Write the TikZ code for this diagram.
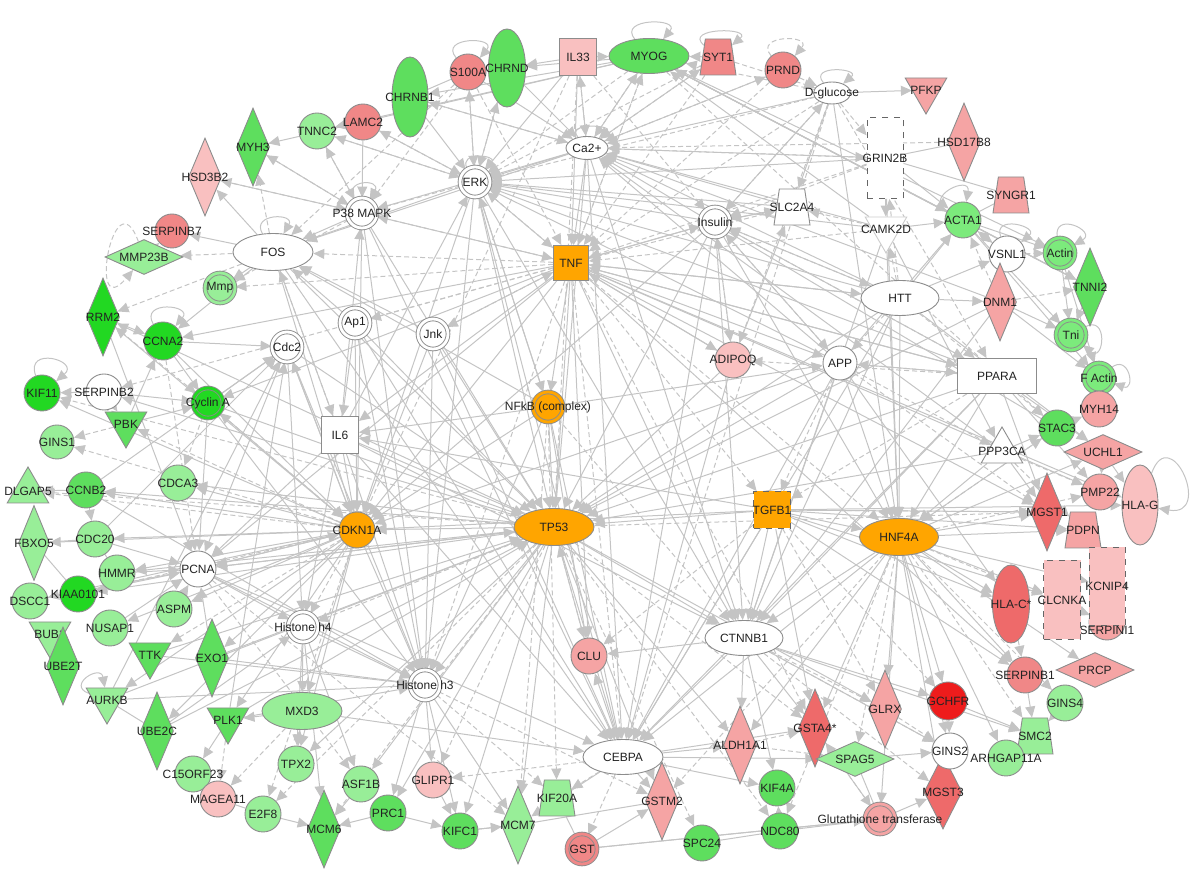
\documentclass[tikz,border=0pt]{standalone}
\usepackage{fontspec}
\setmainfont{Liberation Sans}
\usetikzlibrary{arrows.meta, shapes.geometric}
\pgfdeclarelayer{bg}
\pgfsetlayers{bg,main}
\definecolor{gOne}{HTML}{22D822}
\definecolor{gTwo}{HTML}{5EDE5E}
\definecolor{gMid}{HTML}{7CEA7C}
\definecolor{gThree}{HTML}{98EE98}
\definecolor{rOne}{HTML}{EE1C1C}
\definecolor{rTwo}{HTML}{EE6A6A}
\definecolor{rThree}{HTML}{F08787}
\definecolor{rFour}{HTML}{F5A4A4}
\definecolor{rFive}{HTML}{F9C0C0}
\definecolor{orng}{HTML}{FFA500}
\definecolor{inkOne}{HTML}{222222}
\definecolor{lnkc}{HTML}{C4C4C4}
\tikzset{
  gene/.style={draw=black!45, line width=0.45pt, inner sep=0pt, fill=white},
  circ/.style={gene, circle, minimum size=18pt, fill=#1}, circ/.default=white,
  dc/.style={gene, circle, minimum size=15pt, fill=#1, double=#1, double distance=1.4pt}, dc/.default=white,
  sqr/.style={gene, rectangle, minimum size=18.5pt, fill=#1}, sqr/.default=white,
  dsqr/.style={sqr=#1, dashed, draw=black!60}, dsqr/.default=white,
  ell/.style={gene, ellipse, fill=#1}, ell/.default=white,
  dmd/.style={gene, diamond, minimum width=16.5pt, minimum height=39pt, fill=#1}, dmd/.default=white,
  hdmd/.style={gene, diamond, minimum width=39pt, minimum height=17.5pt, fill=#1}, hdmd/.default=white,
  trap/.style={gene, trapezium, trapezium angle=78, trapezium stretches=true, inner sep=2pt, minimum width=18pt, minimum height=18pt, fill=#1}, trap/.default=white,
  ktri/.style={gene, regular polygon, regular polygon sides=3, shape border rotate=180, minimum size=24pt, fill=#1}, ktri/.default=white,
  utri/.style={gene, regular polygon, regular polygon sides=3, minimum size=24pt, fill=#1}, utri/.default=white,
  every label/.style={font=\fontsize{6}{7}\selectfont, text=inkOne, inner sep=0pt},
  lnk/.style={draw=lnkc, line width=0.5pt, -{Triangle[length=5.5pt, width=5pt]}},
  dlnk/.style={lnk, dash pattern=on 2.5pt off 1.5pt},
  plnk/.style={draw=lnkc, line width=0.5pt},
}
\begin{document}
\begin{tikzpicture}[x=0.5pt, y=-0.5pt]
  \useasboundingbox (0,0) rectangle (1200,886);
  % top arc
  \node[ell=gTwo, minimum width=18pt, minimum height=40pt, label=center:CHRNB1] (chrnb1) at (410,97) {};
  \node[circ=rThree, label=center:S100A] (s100a) at (468,72) {};
  \node[ell=gTwo, minimum width=18.5pt, minimum height=39pt, label=center:CHRND] (chrnd) at (507,68) {};
  \node[sqr=rFive, label=center:IL33] (il33) at (578,57) {};
  \node[ell=gTwo, minimum width=40pt, minimum height=17.5pt, label=center:MYOG] (myog) at (649,56) {};
  \node[trap=rThree, label=center:SYT1] (syt1) at (718,57) {};
  \node[circ=rThree, label=center:PRND] (prnd) at (783,70) {};
  \node[ell, minimum width=18.5pt, minimum height=11pt, label=center:D-glucose] (dglc) at (832,93) {};
  \node[ktri=rFour, label=center:PFKP] (pfkp) at (926,90) {};
  \node[dmd=rFour, label=center:HSD17B8] (hsd17b8) at (964,142) {};
  \node[dsqr, minimum width=18pt, minimum height=40.5pt, label=center:GRIN2B] (grin2b) at (885,158) {};
  \node[trap=rFour, label=center:SYNGR1] (syngr1) at (1011,195) {};
  \node[circ=gMid, label=center:ACTA1] (acta1) at (963,220) {};
  \node[ktri, draw=black!20, label=center:CAMK2D] (camk2d) at (886,229) {};
  \node[circ, label=center:VSNL1] (vsnl1) at (1007,254) {};
  \node[dc=gMid, label=center:Actin] (actin) at (1060,253) {};
  \node[dmd=gTwo, label=center:TNNI2] (tnni2) at (1090,287) {};
  % right side
  \node[ell, minimum width=39pt, minimum height=17.5pt, label=center:HTT] (htt) at (900,298) {};
  \node[dmd=rFour, label=center:DNM1] (dnm1) at (1000,302) {};
  \node[dc=gMid, label=center:Tni] (tni) at (1071,335) {};
  \node[circ, minimum size=17pt, label=center:APP] (app) at (840,363) {};
  \node[sqr, minimum width=39.5pt, minimum height=17.5pt, label=center:PPARA] (ppara) at (997,376) {};
  \node[dc=gMid, label=center:F Actin] (factin) at (1099,378) {};
  \node[circ=rFour, label=center:MYH14] (myh14) at (1099,409) {};
  \node[circ=gTwo, label=center:STAC3] (stac3) at (1057,428) {};
  \node[utri, label=center:PPP3CA] (ppp3ca) at (1002,451) {};
  \node[hdmd=rFour, label=center:UCHL1] (uchl1) at (1103,452) {};
  \node[circ=rFour, label=center:PMP22] (pmp22) at (1100,492) {};
  \node[ell=rFive, minimum width=18pt, minimum height=40pt, label=center:HLA-G] (hlag) at (1140,505) {};
  \node[dmd=rTwo, label=center:MGST1] (mgst1) at (1047,512) {};
  \node[trap=rFour, label=center:PDPN] (pdpn) at (1083,530) {};
  \node[ell=orng, minimum width=39.5pt, minimum height=18.5pt, label=center:HNF4A] (hnf4a) at (899,537) {};
  \node[ell=rTwo, minimum width=18.5pt, minimum height=39pt, label=center:HLA-C*] (hlac) at (1011,604) {};
  \node[circ=rFour, label={[yshift=-4pt]center:SERPINI1}] (serpini1) at (1107,622) {};
  \node[dsqr=rFive, minimum width=18pt, minimum height=39pt, label=center:KCNIP4] (kcnip4) at (1107,586) {};
  \node[dsqr=rFive, minimum width=18.5pt, minimum height=39.5pt, label=center:CLCNKA] (clcnka) at (1062,600) {};
  % bottom right
  \node[circ=rThree, label=center:SERPINB1] (serpinb1) at (1025,675) {};
  \node[hdmd=rFour, label=center:PRCP] (prcp) at (1095,670) {};
  \node[circ=gThree, label=center:GINS4] (gins4) at (1065,703) {};
  \node[circ=rOne, minimum size=19pt, label=center:GCHFR] (gchfr) at (948,701) {};
  \node[dmd=rFour, label=center:GLRX] (glrx) at (885,709) {};
  \node[dmd=rTwo, label=center:GSTA4*] (gsta4) at (815,728) {};
  \node[hdmd=gThree, label=center:SPAG5] (spag5) at (855,759) {};
  \node[dmd=rTwo, minimum width=19pt, minimum height=37pt, label=center:MGST3] (mgst3) at (943,792) {};
  \node[circ, label=center:GINS2] (gins2) at (950,751) {};
  \node[trap=gThree, label=center:SMC2] (smc2) at (1035,736) {};
  \node[circ=gThree, label=center:ARHGAP11A] (arhgap11a) at (1006,758) {};
  \node[dc=rFour, label=center:Glutathione transferase] (gsttr) at (880,819) {};
  \node[circ=gTwo, label=center:NDC80] (ndc80) at (780,831) {};
  \node[circ=gTwo, label=center:KIF4A] (kif4a) at (777,788) {};
  \node[circ=gTwo, label=center:SPC24] (spc24) at (702,843) {};
  \node[dmd=rFour, label=center:ALDH1A1] (aldh1a1) at (740,745) {};
  \node[ell, minimum width=39pt, minimum height=17.5pt, label=center:CTNNB1] (ctnnb1) at (744,638) {};
  \node[ell, minimum width=40pt, minimum height=17.5pt, label=center:CEBPA] (cebpa) at (623,757) {};
  \node[dmd=rFour, label=center:GSTM2] (gstm2) at (662,801) {};
  \node[dc=rThree, label=center:GST] (gst) at (582,849) {};
  \node[trap=gThree, label=center:KIF20A] (kif20a) at (557,798) {};
  \node[dmd=gThree, label=center:MCM7] (mcm7) at (518,825) {};
  \node[circ=rFour, label=center:CLU] (clu) at (589,656) {};
  % bottom left
  \node[circ=rFive, label=center:GLIPR1] (glipr1) at (433,780) {};
  \node[circ=gTwo, label=center:KIFC1] (kifc1) at (460,831) {};
  \node[circ=gTwo, label=center:PRC1] (prc1) at (388,813) {};
  \node[circ=gThree, label=center:ASF1B] (asf1b) at (361,784) {};
  \node[dmd=gTwo, label=center:MCM6] (mcm6) at (324,829) {};
  \node[circ=gThree, label=center:E2F8] (e2f8) at (263,814) {};
  \node[circ=gThree, label=center:TPX2] (tpx2) at (296,764) {};
  \node[circ=gThree, label=center:C15ORF23] (c15orf23) at (193,774) {};
  \node[circ=rFive, label=center:MAGEA11] (magea11) at (218,799) {};
  \node[ell=gThree, minimum width=40pt, minimum height=18.5pt, label=center:MXD3] (mxd3) at (302,711) {};
  \node[ktri=gTwo, label=center:PLK1] (plk1) at (228,720) {};
  \node[dmd=gTwo, label=center:UBE2C] (ube2c) at (157,731) {};
  \node[ktri=gThree, label=center:AURKB] (aurkb) at (107,700) {};
  \node[dmd=gTwo, label=center:EXO1] (exo1) at (212,658) {};
  \node[ktri=gTwo, label=center:TTK] (ttk) at (150,655) {};
  \node[ktri=gThree, label=center:BUB1] (bub1) at (50,634) {};
  \node[dmd=gTwo, label=center:UBE2T] (ube2t) at (63,666) {};
  \node[circ=gThree, label=center:NUSAP1] (nusap1) at (110,628) {};
  \node[circ=gThree, label=center:ASPM] (aspm) at (174,609) {};
  \node[circ=gThree, label=center:DSCC1] (dscc1) at (30,601) {};
  \node[circ=gOne, label=center:KIAA0101] (kiaa0101) at (78,594) {};
  \node[dc, label=center:Histone h4] (histh4) at (303,627) {};
  \node[dc, label=center:Histone h3] (histh3) at (425,685) {};
  % left side
  \node[circ, label=center:PCNA] (pcna) at (198,569) {};
  \node[circ=gThree, label=center:HMMR] (hmmr) at (117,573) {};
  \node[circ=gThree, label=center:CDC20] (cdc20) at (95,539) {};
  \node[dmd=gThree, minimum width=15.5pt, minimum height=37.5pt, label=center:FBXO5] (fbxo5) at (34,543) {};
  \node[utri=gThree, label=center:DLGAP5] (dlgap5) at (28,491) {};
  \node[circ=gTwo, label=center:CCNB2] (ccnb2) at (86,490) {};
  \node[circ=gThree, label=center:CDCA3] (cdca3) at (178,483) {};
  \node[circ=orng, label=center:CDKN1A] (cdkn1a) at (357,530) {};
  \node[circ=gThree, minimum size=17pt, label=center:GINS1] (gins1) at (57,442) {};
  \node[ktri=gTwo, label=center:PBK] (pbk) at (126,424) {};
  \node[circ=gOne, label=center:KIF11] (kif11) at (42,393) {};
  \node[circ, label=center:SERPINB2] (serpinb2) at (104,392) {};
  \node[dc=gOne, label=center:Cyclin A] (cyclina) at (208,403) {};
  \node[sqr, label=center:IL6] (il6) at (340,435) {};
  \node[dmd=gOne, label=center:RRM2] (rrm2) at (103,317) {};
  \node[circ=gOne, minimum size=19pt, label=center:CCNA2] (ccna2) at (163,341) {};
  \node[dc, label=center:Cdc2] (cdc2) at (287,347) {};
  \node[dc, label=center:Ap1] (ap1) at (355,323) {};
  \node[dc, label=center:Jnk] (jnk) at (433,334) {};
  \node[dc=gThree, label=center:Mmp] (mmp) at (220,288) {};
  \node[circ=rThree, minimum size=17pt, label=center:SERPINB7] (serpinb7) at (172,231) {};
  \node[hdmd=gThree, label=center:MMP23B] (mmp23b) at (144,257) {};
  \node[ell, minimum width=40pt, minimum height=18.5pt, label=center:FOS] (fos) at (273,252) {};
  \node[dmd=rFive, label=center:HSD3B2] (hsd3b2) at (205,177) {};
  \node[dmd=gTwo, label=center:MYH3] (myh3) at (253,147) {};
  \node[circ=gThree, label=center:TNNC2] (tnnc2) at (317,131) {};
  \node[circ=rThree, label=center:LAMC2] (lamc2) at (363,122) {};
  % centre
  \node[dc, label=center:P38 MAPK] (p38) at (362,213) {};
  \node[dc, label=center:ERK] (erk) at (475,182) {};
  \node[ell, minimum width=21pt, minimum height=11.5pt, label=center:Ca2+] (ca) at (587,148) {};
  \node[sqr=orng, minimum size=17.5pt, label=center:TNF] (tnf) at (571,263) {};
  \node[dc, label=center:Insulin] (insulin) at (715,222) {};
  \node[trap, label=center:SLC2A4] (slc2a4) at (792,207) {};
  \node[dc=orng, label=center:NFkB (complex)] (nfkb) at (548,407) {};
  \node[circ=rFive, label=center:ADIPOQ] (adipoq) at (733,360) {};
  \node[ell=orng, minimum width=40pt, minimum height=18.5pt, label=center:TP53] (tp53) at (554,527) {};
  \node[dsqr=orng, label=center:TGFB1] (tgfb1) at (772,510) {};
  \begin{pgfonlayer}{bg}
  % solid links
  \foreach \s/\ts in {
    tnf/{il6,nfkb,tp53,cdkn1a,adipoq,ppara,clu,app,insulin,ctnnb1,pcna,ccna2,htt,cyclina,serpinb1,pmp22,mgst1,hlag},
    tp53/{cdkn1a,pcna,cebpa,ctnnb1,clu,histh3,ccnb2,rrm2,kiaa0101,aldh1a1,gstm2,glrx,serpinb2,cdca3,hmmr,kifc1,mcm7,prc1,tpx2,asf1b},
    nfkb/{tp53,cdkn1a,cebpa,il6,histh3,clu,fos,erk,app},
    hnf4a/{mgst1,mgst3,gsta4,glrx,gchfr,gins2,aldh1a1,hlac,pdpn,clcnka,kcnip4,serpinb1,prcp,uchl1,arhgap11a,gsttr,cebpa,ctnnb1},
    cdkn1a/{pcna,ccnb2,cdc20,cdca3,hmmr,kif11,rrm2,plk1,aurkb,exo1,ube2c,mxd3,histh3,tpx2,nusap1,aspm,dscc1,fbxo5,cdc2},
    ctnnb1/{clu,aldh1a1,cebpa,gins2,gsta4,kif4a,smc2,gchfr},
    tgfb1/{ctnnb1,cebpa,tp53,cdkn1a,hlac,hlag,pdpn,mgst1,gsta4,serpinb1,clcnka,il6,hnf4a},
    il6/{tp53,cdkn1a,cebpa,histh3,histh4,fos,erk,p38,pcna,ctnnb1},
    erk/{fos,tnf,tp53,cdkn1a,cebpa,ctnnb1,histh3,nfkb},
    p38/{fos,tnf,tp53,cdkn1a,cebpa,histh3},
    jnk/{tp53,cdkn1a,cebpa,tnf,histh3,fos},
    ap1/{cdkn1a,tp53,cebpa,histh3,fos,il6},
    fos/{hsd3b2,serpinb7,mmp,ccna2,cdkn1a,tp53,cebpa},
    ca/{erk,tnf,tp53,ctnnb1,fos,p38,cebpa},
    insulin/{erk,tnf,tp53,cebpa,slc2a4,ctnnb1,hnf4a,cdkn1a},
    app/{tp53,ctnnb1,hnf4a,cebpa,erk,ca,ppara,acta1,hlac,insulin,cdkn1a},
    htt/{tp53,ctnnb1,hnf4a,cebpa,erk,ca,dnm1,acta1,vsnl1,insulin,tnf,uchl1},
    ppara/{hnf4a,cebpa,ctnnb1,insulin,erk,pmp22,uchl1,mgst1,tnf,tp53},
    dglc/{pfkp,insulin,slc2a4,ca,hnf4a},
    myog/{chrnd,chrnb1,acta1,tnni2,tnnc2,myh3,actin,ca},
    cdc2/{histh3,histh4,cdkn1a,tp53,pcna},
    cyclina/{cdkn1a,pcna,histh3,tp53,cdc2},
    pcna/{histh3,histh4,cdkn1a,tp53,cebpa},
    histh4/{histh3,asf1b,mxd3,tpx2,mcm6},
    histh3/{glipr1,kifc1,mcm7,prc1},
    cebpa/{gstm2,aldh1a1,mcm7,kif4a,spag5,gsta4,clu},
    acta1/{vsnl1,actin,tnni2,tni,factin,myog},
    camk2d/{ca,erk,hnf4a,ppp3ca,acta1,ctnnb1,myog},
    slc2a4/{ca,erk,insulin},
    grin2b/{ca,erk,hnf4a,acta1,camk2d},
    ppp3ca/{stac3,mgst1,ca,tp53,hnf4a},
    gsttr/{mgst3,gsta4}, gst/{gstm2,gsttr}, spag5/{gins2}, gins4/{smc2},
    arhgap11a/{smc2}, serpinb1/{smc2}, gchfr/{gins2,smc2}, ndc80/{kif4a},
    prc1/{kifc1,mcm6}, glipr1/{kifc1}, kifc1/{mcm7}, asf1b/{mcm6}, e2f8/{mcm6},
    tpx2/{mxd3}, mxd3/{plk1,cebpa}, plk1/{c15orf23,histh3,tp53,cdc2},
    aurkb/{histh3,cdc2,tp53}, ttk/{histh3,tp53}, exo1/{pcna,histh3,tp53},
    ube2c/{histh4,tp53}, rrm2/{ccna2,pcna}, ccna2/{cyclina,cdkn1a,cdc2},
    serpinb2/{kif11,cyclina}, pbk/{cyclina,ccna2}, ccnb2/{dlgap5,cdc2,histh3},
    cdc20/{pcna,cdc2}, hmmr/{pcna}, kiaa0101/{pcna}, dscc1/{pcna},
    nusap1/{pcna}, aspm/{pcna}, chrnb1/{erk,ca}, chrnd/{erk,ca}, s100a/{erk,ca},
    il33/{chrnd,erk,ca,tnf}, syt1/{ca,myog}, prnd/{ca}, lamc2/{erk,p38},
    tnnc2/{p38,erk}, myh3/{p38}, hsd3b2/{p38}, dnm1/{ctnnb1,tni,factin,ca,tp53},
    stac3/{ca,hnf4a,myh14}, factin/{myh14}, actin/{factin,tni}, tnni2/{tni,myog},
    uchl1/{hlag,pmp22}, adipoq/{tnf,insulin,slc2a4,cebpa,tp53}}
  {\foreach \t in \ts {\draw[lnk] (\s) -- (\t);}}
  % dashed links
  \foreach \s/\ts in {
    tnf/{mmp,fos,jnk,ap1,erk,p38,cebpa,tgfb1,hnf4a,slc2a4,serpinb2,myog,gsta4,histh3},
    tp53/{mgst1,dlgap5,gsta4,kif11,spc24,ndc80,mcm6,e2f8,histh4,glipr1},
    hnf4a/{smc2,pmp22,gins4,gstm2,spag5,ndc80,serpini1,stac3},
    cdkn1a/{kiaa0101,gins1,pbk,dlgap5,ttk,e2f8,histh4,cyclina},
    fos/{mmp23b,rrm2,il6,myh3}, p38/{hsd3b2,myh3,tnnc2,mmp},
    erk/{s100a,chrnd,lamc2,tnnc2,p38},
    dglc/{tnf,grin2b,adipoq,ppara,cebpa,myog,erk},
    ca/{il33,myog,syt1,prnd,grin2b,chrnb1},
    il33/{tp53,cdkn1a,insulin,myog}, s100a/{tnf,fos,p38}, myog/{tnf,stac3,erk},
    syt1/{dglc,erk,tnf}, prnd/{tnf,dglc}, insulin/{app,htt,adipoq,ppara,dglc},
    app/{tgfb1,ppp3ca,mgst1}, htt/{ppara,app,grin2b,camk2d},
    ppara/{app,tgfb1,stac3,adipoq}, tgfb1/{glrx,mgst1,gchfr,clu},
    ctnnb1/{glrx,gins2,mgst3}, cebpa/{kif20a,glipr1,gst}, clu/{tp53},
    histh3/{gstm2,kif20a}, pcna/{mcm7,asf1b}, nfkb/{mcm7,ctnnb1,kif20a},
    pbk/{gins1}, serpinb2/{pbk}, rrm2/{cyclina}, mmp23b/{serpinb7},
    ccnb2/{cdc20}, ccna2/{pcna}, cyclina/{cdca3}, mxd3/{magea11,tpx2},
    plk1/{magea11}, aldh1a1/{spag5,gsta4}, glrx/{gins2}, gsta4/{gsttr},
    hlac/{serpinb1}, ppp3ca/{pmp22,pdpn}, dnm1/{tnni2,acta1},
    vsnl1/{actin,acta1}, camk2d/{tnf,slc2a4}, grin2b/{tnf,insulin}, hsd17b8/{ca}}
  {\foreach \t in \ts {\draw[dlnk] (\s) -- (\t);}}
  % plain links
  \foreach \s/\t in {chrnb1/s100a, hsd17b8/grin2b, syngr1/grin2b, syngr1/acta1,
    fbxo5/cdc20, fbxo5/kiaa0101, cdc20/hmmr, spc24/ndc80, gst/gsttr, gst/kif20a,
    mcm7/kifc1, bub1/ube2t, aurkb/ube2c, e2f8/magea11, smc2/gins4, gins2/mgst3,
    spag5/gsttr, ndc80/gsttr, gstm2/mcm7}
    \draw[plnk] (\s) -- (\t);
  % self loops
  \foreach \n/\o/\i/\d in {myog/130/50/14pt, syt1/140/40/14pt, s100a/130/50/14pt,
    ca/130/40/10pt, p38/120/60/12pt, fos/120/60/12pt, dglc/130/40/12pt,
    kif11/110/40/16pt, ccna2/120/50/14pt, acta1/150/80/14pt, vsnl1/110/40/12pt,
    actin/100/30/14pt, tni/30/-40/14pt, factin/40/-20/12pt, erk/120/50/10pt,
    aurkb/160/100/12pt, hlag/70/-10/28pt}
    \path (\n) edge[lnk, out=\o, in=\i, min distance=\d] (\n);
  \foreach \n/\o/\i/\d in {prnd/130/50/14pt, mmp23b/110/230/36pt}
    \path (\n) edge[dlnk, out=\o, in=\i, min distance=\d] (\n);
  \end{pgfonlayer}
\end{tikzpicture}
\end{document}
